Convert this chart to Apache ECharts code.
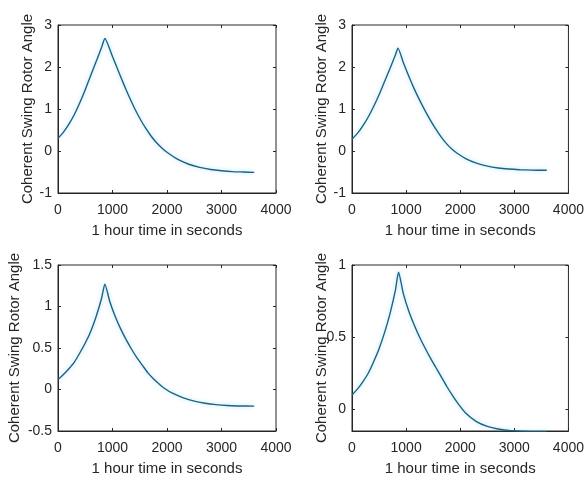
<!DOCTYPE html>
<html>

<head>
    <meta charset="utf-8" />
    <title>Coherent Swing Rotor Angle</title>
    <script src="https://cdn.jsdelivr.net/npm/echarts@6/dist/echarts.min.js"></script>
    <style>
        html, body { margin: 0; padding: 0; background: #fff; }
    </style>
</head>

<body>
    <div id="main" style="width: 587px;height:477px;"></div>
    <script>
        // time (s) and rotor angle
        var t1 = [0, 100, 200, 300, 400, 500, 600, 700, 800, 860, 1000, 1100, 1200, 1300, 1400, 1500, 1600, 1700, 1800, 1900, 2000, 2200, 2400, 2600, 2800, 3000, 3200, 3400, 3600];
        var angle1 = [0.3, 0.45, 0.64, 0.87, 1.15, 1.46, 1.8, 2.13, 2.47, 2.68, 2.25, 1.93, 1.61, 1.31, 1.03, 0.78, 0.56, 0.37, 0.21, 0.08, -0.03, -0.2, -0.315, -0.39, -0.44, -0.47, -0.49, -0.50, -0.51];

        var t2 = [0, 100, 200, 300, 400, 500, 600, 700, 800, 850, 950, 1050, 1150, 1250, 1350, 1450, 1550, 1650, 1750, 1850, 1950, 2100, 2300, 2500, 2700, 2900, 3100, 3300, 3600];
        var angle2 = [0.28, 0.42, 0.6, 0.81, 1.06, 1.34, 1.65, 1.96, 2.28, 2.45, 2.1, 1.78, 1.48, 1.21, 0.96, 0.73, 0.52, 0.33, 0.17, 0.04, -0.06, -0.18, -0.29, -0.36, -0.405, -0.43, -0.445, -0.455, -0.46];

        var t3 = [0, 100, 200, 300, 400, 500, 600, 700, 800, 860, 950, 1050, 1150, 1250, 1350, 1450, 1550, 1650, 1750, 1850, 1950, 2100, 2300, 2500, 2700, 2900, 3100, 3300, 3600];
        var angle3 = [0.12, 0.18, 0.25, 0.33, 0.44, 0.56, 0.7, 0.88, 1.1, 1.27, 1.06, 0.88, 0.73, 0.6, 0.485, 0.38, 0.29, 0.2, 0.13, 0.07, 0.015, -0.045, -0.1, -0.14, -0.165, -0.182, -0.193, -0.198, -0.2];

        var t4 = [0, 100, 200, 300, 400, 500, 600, 700, 800, 860, 950, 1050, 1150, 1250, 1350, 1450, 1550, 1650, 1750, 1850, 1950, 2100, 2300, 2500, 2700, 2900, 3100, 3300, 3600];
        var angle4 = [0.1, 0.14, 0.19, 0.25, 0.33, 0.42, 0.53, 0.66, 0.82, 0.95, 0.8, 0.68, 0.585, 0.5, 0.425, 0.355, 0.29, 0.225, 0.16, 0.1, 0.045, -0.025, -0.085, -0.118, -0.136, -0.146, -0.151, -0.154, -0.155];

        var xTicks = [0, 4000, 1000];
        var yRanges = [[-1, 3, 1], [-1, 3, 1], [-0.5, 1.5, 0.5], [-0.15, 1, 0.5]];
        var yTicks4 = [0, 0.5, 1];

        var xName = '1 hour time in seconds';
        var yName = 'Coherent Swing Rotor Angle';

        var ink = '#262626';
        var font = 'Liberation Sans, Arial, sans-serif';

        var myChart = echarts.init(document.getElementById('main'));

        var grids = [
            { left: 58, top: 25, width: 218, height: 168 },
            { left: 352, top: 25, width: 217, height: 168 },
            { left: 58, top: 265, width: 218, height: 167 },
            { left: 352, top: 265, width: 217, height: 167 }
        ];
        var yNameGaps = [23, 23, 36, 23];
        var times = [t1, t2, t3, t4];
        var angles = [angle1, angle2, angle3, angle4];

        function plain(v) { return String(v); }

        var xAxes = [], yAxes = [], series = [];
        grids.forEach(function (g, i) {
            g.show = true;
            g.borderColor = ink;
            g.borderWidth = 1;
            var r = yRanges[i];
            var tickCustom = i === 3 ? yTicks4 : undefined;

            xAxes.push({
                type: 'value', gridIndex: i, min: xTicks[0], max: xTicks[1], interval: xTicks[2],
                name: xName, nameLocation: 'middle', nameGap: 30, nameMoveOverlap: false,
                nameTextStyle: { color: ink, fontSize: 15, fontFamily: font },
                axisLine: { onZero: false, lineStyle: { color: ink } },
                axisTick: { inside: true, length: 3, lineStyle: { color: ink } },
                axisLabel: { color: ink, fontSize: 14, fontFamily: font, margin: 10, formatter: plain },
                splitLine: { show: false }
            });
            xAxes.push({
                type: 'value', gridIndex: i, position: 'top', min: xTicks[0], max: xTicks[1], interval: xTicks[2],
                axisLine: { show: false, onZero: false },
                axisTick: { inside: true, length: 3, lineStyle: { color: ink } },
                axisLabel: { show: false }, splitLine: { show: false }
            });

            var yLeft = {
                type: 'value', gridIndex: i, min: r[0], max: r[1],
                name: yName, nameLocation: 'middle', nameGap: yNameGaps[i], nameRotate: 90, nameMoveOverlap: false,
                nameTextStyle: { color: ink, fontSize: 15, fontFamily: font },
                axisLine: { show: true, onZero: false, lineStyle: { color: ink } },
                axisTick: { show: true, inside: true, length: 3, lineStyle: { color: ink } },
                axisLabel: { color: ink, fontSize: 14, fontFamily: font, margin: 6, formatter: plain },
                splitLine: { show: false }
            };
            var yRight = {
                type: 'value', gridIndex: i, position: 'right', min: r[0], max: r[1],
                axisLine: { show: false, onZero: false },
                axisTick: { show: true, inside: true, length: 3, lineStyle: { color: ink } },
                axisLabel: { show: false }, splitLine: { show: false }
            };
            if (tickCustom) {
                yLeft.axisLabel.customValues = tickCustom;
                yLeft.axisTick.customValues = tickCustom;
                yRight.axisTick.customValues = tickCustom;
            } else {
                yLeft.interval = r[2];
                yRight.interval = r[2];
            }
            yAxes.push(yLeft, yRight);

            var data = times[i].map(function (t, k) { return [t, angles[i][k]]; });
            series.push({
                type: 'line', xAxisIndex: i * 2, yAxisIndex: i * 2,
                data: data, smooth: 0.2, showSymbol: false, silent: true,
                lineStyle: {
                    color: '#1a6384', width: 1.4,
                    shadowColor: 'rgba(60,180,230,0.45)', shadowBlur: 4
                }
            });
        });

        myChart.setOption({
            backgroundColor: '#fff',
            animation: false,
            grid: grids,
            xAxis: xAxes,
            yAxis: yAxes,
            series: series
        });
    </script>
</body>

</html>
